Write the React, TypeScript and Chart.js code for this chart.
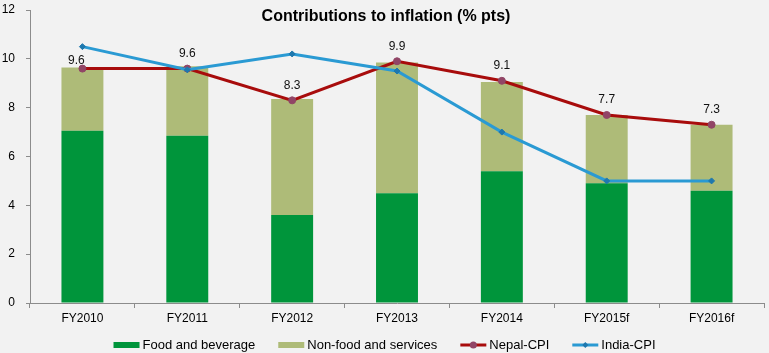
import React, { useEffect, useRef } from "react";
import { Chart, registerables } from "chart.js";

Chart.register(...registerables);

const categories = ["FY2010", "FY2011", "FY2012", "FY2013", "FY2014", "FY2015f", "FY2016f"];
const foodBeverage = [7.05, 6.85, 3.6, 4.5, 5.4, 4.9, 4.6];
const nonFoodServices = [2.6, 2.85, 4.75, 5.35, 3.65, 2.8, 2.7];
const nepalCPI = [9.6, 9.6, 8.3, 9.9, 9.1, 7.7, 7.3];
const indiaCPI = [10.5, 9.55, 10.2, 9.5, 7.0, 5.0, 5.0];
const yMin = 0;
const yMax = 12;
const yStep = 2;

const titleText = "Contributions to inflation (% pts)";
const FONT = "'Liberation Sans', Arial, sans-serif";

const C_FOOD = "#00953B";
const C_NONFOOD = "#AEBB78";
const C_NEPAL = "#A80C0C";
const C_NEPAL_PT = "#914566";
const C_INDIA = "#2A9AD3";
const C_INDIA_PT = "#1E78AE";
const C_AXIS = "#8C8C8C";
const C_BG = "#F2F2F2";

const decorPlugin = {
  id: "decor",
  beforeDraw(chart: any) {
    const { ctx, width, height } = chart;
    ctx.save();
    ctx.fillStyle = C_BG;
    ctx.fillRect(0, 0, width, height);
    ctx.restore();
  },
  afterDraw(chart: any) {
    const { ctx, width } = chart;
    ctx.save();
    // Title
    ctx.fillStyle = "#000";
    ctx.font = `bold 16px ${FONT}`;
    ctx.textAlign = "center";
    ctx.textBaseline = "middle";
    ctx.fillText(titleText, 386, 17);

    // Nepal labels
    const meta = chart.getDatasetMeta(2);
    ctx.font = `12px ${FONT}`;
    ctx.fillStyle = "#111";
    meta.data.forEach((pt: any, i: number) => {
      const dx = i === 0 ? -6 : 0;
      const dy = i === 0 ? -8 : -15;
      ctx.fillText(nepalCPI[i].toFixed(1), pt.x + dx, pt.y + dy);
    });

    // Legend
    const items = chart.data.datasets.map((ds: any) => ({
      label: ds.label,
      kind: ds.type === "line" ? "line" : "box",
      color: ds.type === "line" ? ds.borderColor : ds.backgroundColor,
      ptColor: ds.pointBackgroundColor,
      ptStyle: ds.pointStyle,
    }));
    ctx.font = `13px ${FONT}`;
    const sw = 26;
    const gapText = 3;
    const gapItem = 23;
    const widths = items.map((it: any) => sw + gapText + ctx.measureText(it.label).width);
    const total = widths.reduce((a: number, b: number) => a + b, 0) + gapItem * (items.length - 1);
    let x = (width - total) / 2;
    const y = 345;
    ctx.textAlign = "left";
    ctx.textBaseline = "middle";
    items.forEach((it: any, i: number) => {
      if (it.kind === "box") {
        ctx.fillStyle = it.color;
        ctx.fillRect(x, y - 3, sw, 6);
      } else {
        ctx.strokeStyle = it.color;
        ctx.lineWidth = 3;
        ctx.beginPath();
        ctx.moveTo(x, y);
        ctx.lineTo(x + sw, y);
        ctx.stroke();
        const cx = x + sw / 2;
        ctx.fillStyle = it.ptColor;
        ctx.beginPath();
        if (it.ptStyle === "circle") {
          ctx.arc(cx, y, 3.5, 0, Math.PI * 2);
        } else {
          ctx.moveTo(cx, y - 3);
          ctx.lineTo(cx + 3, y);
          ctx.lineTo(cx, y + 3);
          ctx.lineTo(cx - 3, y);
          ctx.closePath();
        }
        ctx.fill();
      }
      ctx.fillStyle = "#000";
      ctx.fillText(it.label, x + sw + gapText, y);
      x += widths[i] + gapItem;
    });
    ctx.restore();
  },
};

export default function App() {
  const ref = useRef<HTMLCanvasElement | null>(null);

  useEffect(() => {
    if (!ref.current) return;
    const chart = new Chart(ref.current, {
      type: "bar",
      data: {
        labels: categories,
        datasets: [
          {
            type: "bar",
            label: "Food and beverage",
            data: foodBeverage,
            backgroundColor: C_FOOD,
            borderWidth: 0,
            stack: "bars",
            order: 2,
            categoryPercentage: 1,
            barPercentage: 0.4,
          } as any,
          {
            type: "bar",
            label: "Non-food and services",
            data: nonFoodServices,
            backgroundColor: C_NONFOOD,
            borderWidth: 0,
            stack: "bars",
            order: 2,
            categoryPercentage: 1,
            barPercentage: 0.4,
          } as any,
          {
            type: "line",
            label: "Nepal-CPI",
            data: nepalCPI,
            borderColor: C_NEPAL,
            borderWidth: 3,
            pointStyle: "circle",
            pointRadius: 3.5,
            pointBackgroundColor: C_NEPAL_PT,
            pointBorderColor: C_NEPAL_PT,
            pointBorderWidth: 1,
            tension: 0,
            stack: "nepal",
            order: 1,
          } as any,
          {
            type: "line",
            label: "India-CPI",
            data: indiaCPI,
            borderColor: C_INDIA,
            borderWidth: 3,
            pointStyle: "rectRot",
            pointRadius: 3,
            pointBackgroundColor: C_INDIA_PT,
            pointBorderColor: C_INDIA_PT,
            pointBorderWidth: 1,
            tension: 0,
            stack: "india",
            order: 0,
          } as any,
        ],
      },
      options: {
        animation: false,
        responsive: false,
        maintainAspectRatio: false,
        layout: { padding: { top: 10, right: 4, bottom: 25, left: 0 } },
        plugins: {
          legend: { display: false },
          title: { display: false },
          tooltip: { enabled: false },
        },
        scales: {
          x: {
            stacked: true,
            offset: true,
            grid: {
              offset: true,
              drawOnChartArea: false,
              drawTicks: true,
              tickLength: 5,
              color: C_AXIS,
            },
            border: { color: C_AXIS, width: 1 },
            ticks: {
              color: "#000",
              font: { family: FONT, size: 12 },
              padding: 3,
              maxRotation: 0,
            },
            afterFit: (scale: any) => {
              scale.height = 25;
              scale.paddingLeft = 0;
              scale.paddingRight = 0;
            },
          },
          y: {
            stacked: true,
            min: yMin,
            max: yMax,
            grid: {
              drawOnChartArea: false,
              drawTicks: true,
              tickLength: 4,
              color: C_AXIS,
            },
            border: { color: C_AXIS, width: 1 },
            ticks: {
              stepSize: yStep,
              color: "#000",
              font: { family: FONT, size: 12 },
              padding: 11,
            },
            afterFit: (scale: any) => {
              scale.width = 30;
              scale.paddingTop = 0;
              scale.paddingBottom = 0;
            },
          },
        },
      } as any,
      plugins: [decorPlugin],
    });
    return () => chart.destroy();
  }, []);

  return (
    <div style={{ position: "fixed", left: 0, top: 0, width: 769, height: 353, background: C_BG }}>
      <canvas ref={ref} width={769} height={353} style={{ display: "block", width: 769, height: 353 }} />
    </div>
  );
}
